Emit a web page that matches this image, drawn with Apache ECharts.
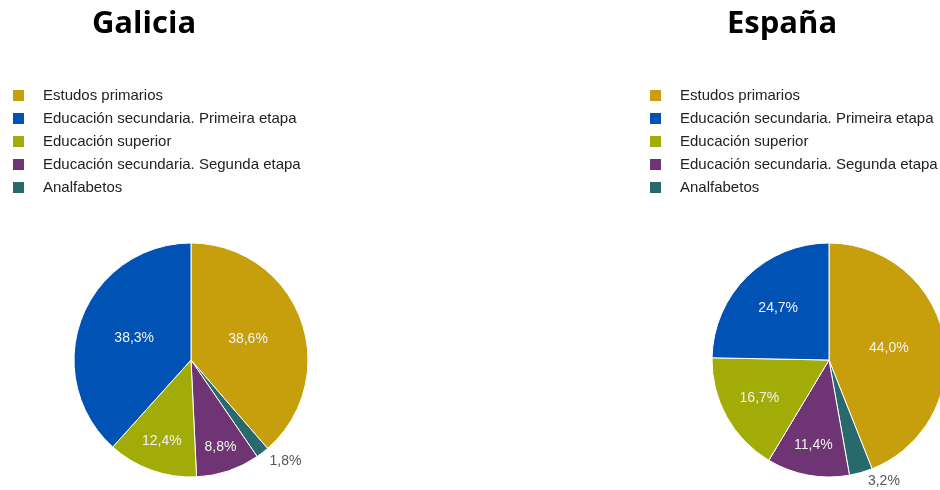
<!DOCTYPE html>
<html>
<head>
<meta charset="utf-8">
<script src="https://cdn.jsdelivr.net/npm/echarts@6/dist/echarts.min.js"></script>
<style>
  html, body { margin: 0; padding: 0; background: #fff; }
  #chart { width: 940px; height: 490px; }
</style>
</head>
<body>
<div id="chart"></div>
<script>
// legend order as shown in the reference
const legendNames = ['Estudos primarios', 'Educación secundaria. Primeira etapa', 'Educación superior', 'Educación secundaria. Segunda etapa', 'Analfabetos'];
// slice order, clockwise from 12 o'clock
const sliceNames = ['Estudos primarios', 'Analfabetos', 'Educación secundaria. Segunda etapa', 'Educación superior', 'Educación secundaria. Primeira etapa'];
const sliceColors = ['#c79f0d', '#28696b', '#6f3474', '#a2ac08', '#0052b5'];
const galiciaValues = [38.6, 1.8, 8.8, 12.4, 38.3];
const espanaValues = [44.0, 3.2, 11.4, 16.7, 24.7];

const colorOf = {};
sliceNames.forEach((n, i) => { colorOf[n] = sliceColors[i]; });

const R = 117;
const pies = [
  { title: 'Galicia', values: galiciaValues, cx: 191, cy: 360, titleX: 144, legendX: 11 },
  { title: 'España', values: espanaValues, cx: 829, cy: 360, titleX: 782, legendX: 648 }
];

const chart = echarts.init(document.getElementById('chart'));

// radial position of inner labels, like the original renderer (small slices push labels out)
function innerFactor(v) {
  if (v >= 30) return 0.52;
  if (v >= 20) return 0.62;
  if (v >= 14) return 0.68;
  if (v >= 10) return 0.74;
  return 0.79;
}

function makeLayout(p) {
  const total = p.values.reduce((a, b) => a + b, 0);
  return function (params) {
    const i = params.dataIndex;
    let before = 0;
    for (let k = 0; k < i; k++) before += p.values[k];
    const v = p.values[i];
    const mid = (before + v / 2) / total * Math.PI * 2;
    const dx = Math.sin(mid), dy = -Math.cos(mid);
    if (v < 5) {
      return { x: p.cx + dx * R + 7, y: p.cy + dy * R + 9, align: 'left', verticalAlign: 'middle' };
    }
    const f = innerFactor(v) * R;
    return { x: p.cx + dx * f, y: p.cy + dy * f, align: 'center', verticalAlign: 'middle' };
  };
}

const option = {
  animation: false,
  title: pies.map(p => ({
    text: p.title,
    left: p.titleX,
    top: 9,
    padding: 0,
    textAlign: 'center',
    textStyle: { fontFamily: 'Open Sans', fontWeight: 'bold', fontSize: 31, color: '#000' }
  })),
  legend: pies.map((p, idx) => ({
    seriesIndex: idx,
    orient: 'vertical',
    left: p.legendX,
    top: 88,
    padding: 0,
    itemWidth: 13,
    itemHeight: 13,
    itemGap: 8,
    icon: 'rect',
    data: legendNames,
    textStyle: { fontFamily: 'Liberation Sans, Arial', fontSize: 15, color: '#222', padding: [0, 0, 0, 13] },
    selectedMode: false
  })),
  series: pies.map(p => ({
    type: 'pie',
    center: [p.cx, p.cy],
    radius: R,
    startAngle: 90,
    clockwise: true,
    avoidLabelOverlap: false,
    silent: true,
    itemStyle: { borderColor: '#fff', borderWidth: 1 },
    labelLine: { show: false },
    label: {
      show: true,
      position: 'inside',
      fontFamily: 'Liberation Sans, Arial',
      fontSize: 14,
      formatter: d => d.value.toFixed(1).replace('.', ',') + '%'
    },
    labelLayout: makeLayout(p),
    data: sliceNames.map((n, i) => ({
      name: n,
      value: p.values[i],
      itemStyle: { color: colorOf[n] },
      label: p.values[i] < 5 ? { color: '#555' } : { color: '#f2f2f2' }
    }))
  }))
};

chart.setOption(option);
</script>
</body>
</html>
